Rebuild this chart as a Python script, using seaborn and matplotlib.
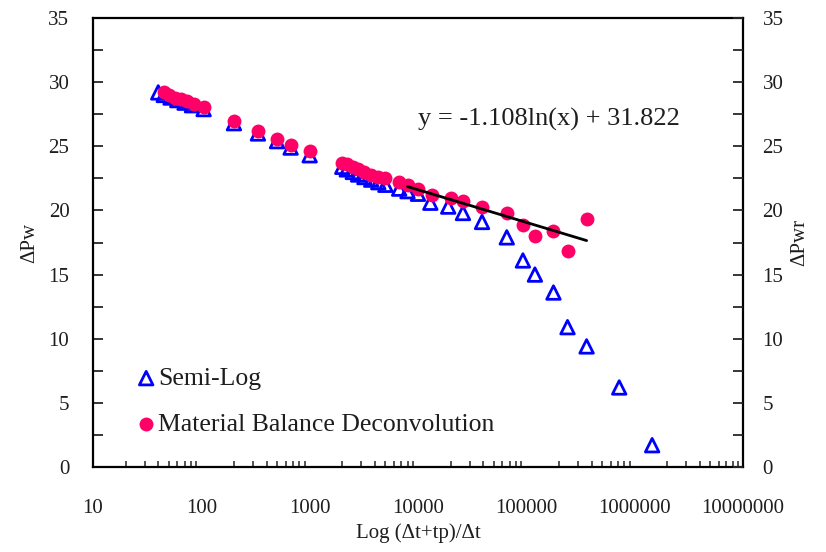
import numpy as np
import pandas as pd
import matplotlib
matplotlib.use("Agg")
import matplotlib.pyplot as plt
import seaborn as sns
from matplotlib.ticker import FixedLocator, FixedFormatter, MultipleLocator, LogLocator, NullFormatter

# ---------------- data ----------------
semilog_x = [40, 45, 52, 60, 70, 82, 105, 200, 333, 500, 667, 1000,
             2000, 2200, 2500, 2800, 3200, 3700, 4300, 5000, 6700, 8000, 10000,
             13000, 19000, 26000, 39000, 66000, 93000, 120000, 178000, 240000,
             360000, 720000, 1450000]
semilog_y = [29.2, 29.0, 28.8, 28.6, 28.4, 28.2, 27.9, 26.8, 26.0, 25.4, 24.9, 24.3,
             23.4, 23.2, 23.0, 22.8, 22.6, 22.4, 22.2, 22.0, 21.7, 21.5, 21.3,
             20.6, 20.3, 19.8, 19.1, 17.9, 16.1, 15.0, 13.6, 10.9,
             9.4, 6.2, 1.7]

mbd_x = [45, 50, 57, 65, 74, 85, 105, 200, 333, 500, 667, 1000,
         2000, 2200, 2500, 2800, 3200, 3700, 4300, 5000, 6700, 8000, 10000,
         13500, 20000, 26000, 39000, 66000, 93000, 120000, 178000, 240000, 360000]
mbd_y = [29.2, 29.0, 28.8, 28.7, 28.5, 28.3, 28.1, 27.0, 26.2, 25.6, 25.1, 24.6,
         23.7, 23.6, 23.4, 23.2, 23.0, 22.8, 22.6, 22.5, 22.2, 22.0, 21.7,
         21.2, 21.0, 20.7, 20.3, 19.8, 18.9, 18.0, 18.4, 16.8, 19.3]

trend_x = [8000, 360000]
trend_y = [21.86, 17.65]
trend_label = "y = -1.108ln(x) + 31.822"

x_ticks = [10, 100, 1000, 10000, 100000, 1000000, 10000000]
x_ticklabels = ["10", "100", "1000", "10000", "100000", "1000000", "10000000"]
y_ticks = [0, 5, 10, 15, 20, 25, 30, 35]

df_sl = pd.DataFrame({"x": semilog_x, "y": semilog_y})
df_mb = pd.DataFrame({"x": mbd_x, "y": mbd_y})
df_tr = pd.DataFrame({"x": trend_x, "y": trend_y})

# ---------------- style ----------------
sns.set_theme(style="white")
plt.rcParams["font.family"] = ["Liberation Serif", "DejaVu Serif"]
TXT = "#1e1e1e"
FS = 15
FS_BIG = 18.5

fig = plt.figure(figsize=(8.26, 5.52), dpi=100)
ax = fig.add_axes([93/826, 1-467/552, (743-93)/826, (467-18)/552])

BLUE = "#0000FF"
PINK = "#FF0066"

sns.scatterplot(data=df_sl, x="x", y="y", marker="^", s=95, facecolors="none",
                edgecolors=BLUE, linewidth=2.0, ax=ax, label="Semi-Log", zorder=3)
sns.scatterplot(data=df_mb, x="x", y="y", marker="o", s=100, color=PINK,
                edgecolor=PINK, linewidth=0, ax=ax,
                label="Material Balance Deconvolution", zorder=4)
sns.lineplot(data=df_tr, x="x", y="y", color="black", linewidth=2.0, ax=ax,
             zorder=5, legend=False)

ax.set_xscale("log")
ax.set_xlim(10, 1e7)
ax.set_ylim(0, 35)
ax.xaxis.set_major_locator(FixedLocator(x_ticks))
ax.xaxis.set_major_formatter(FixedFormatter(x_ticklabels))
ax.xaxis.set_minor_locator(LogLocator(base=10, subs=np.arange(2, 10)))
ax.xaxis.set_minor_formatter(NullFormatter())
ax.yaxis.set_major_locator(FixedLocator(y_ticks))
ax.yaxis.set_minor_locator(MultipleLocator(2.5))

for sp in ax.spines.values():
    sp.set_color("black")
    sp.set_linewidth(1.6)

ax.tick_params(axis="x", which="major", direction="in", length=6, width=1.3,
               labelsize=FS, labelcolor=TXT, pad=23, top=False)
ax.tick_params(axis="x", which="minor", direction="in", length=4.5, width=1.1,
               top=False, bottom=True)
ax.tick_params(axis="y", which="major", direction="in", length=7, width=1.3,
               labelsize=FS, labelcolor=TXT, pad=17, left=True)
ax.tick_params(axis="y", which="minor", direction="in", length=7, width=1.3, left=True)

ax.set_xlabel("Log (\u0394t+tp)/\u0394t", fontsize=FS, color=TXT, labelpad=3.5)
ax.set_ylabel("\u0394Pw", fontsize=FS, color=TXT, labelpad=6.5)

ax2 = ax.twinx()
ax2.set_ylim(0, 35)
ax2.yaxis.set_major_locator(FixedLocator(y_ticks))
ax2.yaxis.set_minor_locator(MultipleLocator(2.5))
ax2.tick_params(axis="y", which="major", direction="in", length=7, width=1.3,
                labelsize=FS, labelcolor=TXT, pad=14, right=True)
ax2.tick_params(axis="y", which="minor", direction="in", length=7, width=1.3, right=True)
ax2.set_ylabel("\u0394Pwr", fontsize=FS, color=TXT, labelpad=5)
for sp in ax2.spines.values():
    sp.set_visible(False)

ax.text(0.5, 0.775, trend_label, transform=ax.transAxes, fontsize=19,
        color=TXT, ha="left", va="center")

leg = ax.legend(loc="center left", bbox_to_anchor=(0.066, 0.146), frameon=False,
                fontsize=FS_BIG, handletextpad=0.07, handlelength=0.8,
                labelspacing=0.9, borderaxespad=0, borderpad=0)
for t in leg.get_texts():
    t.set_color(TXT)

ax.grid(False)
fig.savefig("out.png", dpi=100)
